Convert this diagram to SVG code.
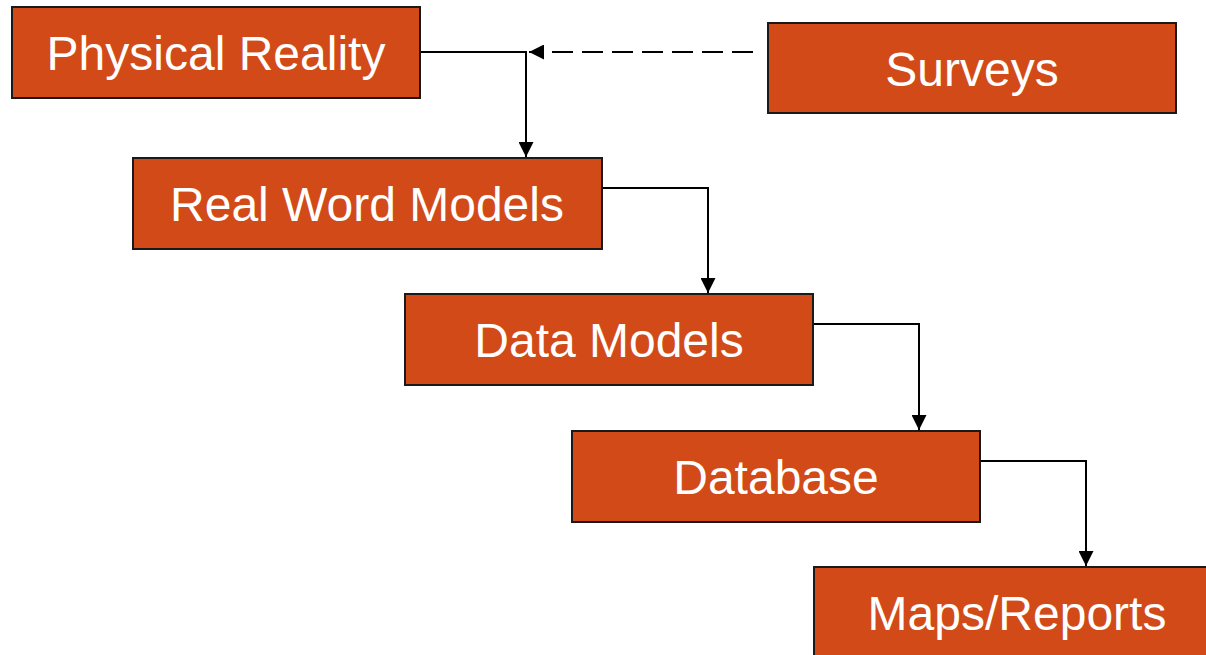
<svg xmlns="http://www.w3.org/2000/svg" width="1206" height="655" viewBox="0 0 1206 655">
<style>
.box{fill:#D24A18;stroke:#1a1a1a;stroke-width:2}
.lbl{fill:#fff;font-family:"Liberation Sans",Arial,sans-serif;font-size:48px;text-anchor:middle}
.con{fill:none;stroke:#000;stroke-width:2}
</style>
<defs>
<marker id="ahb" viewBox="0 0 10 10" refX="10" refY="5" markerWidth="15" markerHeight="15" markerUnits="userSpaceOnUse" orient="auto">
<path d="M0,0 L10,5 L0,10 z" fill="#000"/>
</marker>
</defs>
<rect width="1206" height="655" fill="#fff"/>
<g id="connectors">
<path class="con" d="M420,52 H526 V157" marker-end="url(#ahb)"/>
<path class="con" d="M753,52 H529" stroke-dasharray="21,9" marker-end="url(#ahb)"/>
<path class="con" d="M602,188 H708 V293" marker-end="url(#ahb)"/>
<path class="con" d="M813,324 H919 V430" marker-end="url(#ahb)"/>
<path class="con" d="M980,461 H1086 V566" marker-end="url(#ahb)"/>
</g>
<g id="physical-reality">
<rect class="box" x="12" y="7" width="408" height="91"/>
<text class="lbl" x="216" y="70">Physical Reality</text>
</g>
<g id="surveys">
<rect class="box" x="768" y="23" width="408" height="90"/>
<text class="lbl" x="972" y="86">Surveys</text>
</g>
<g id="real-word-models">
<rect class="box" x="133" y="158" width="469" height="91"/>
<text class="lbl" x="367" y="221">Real Word Models</text>
</g>
<g id="data-models">
<rect class="box" x="405" y="294" width="408" height="91"/>
<text class="lbl" x="609" y="357">Data Models</text>
</g>
<g id="database">
<rect class="box" x="572" y="431" width="408" height="91"/>
<text class="lbl" x="776" y="494">Database</text>
</g>
<g id="maps-reports">
<rect class="box" x="814" y="567" width="400" height="100"/>
<text class="lbl" x="1017" y="630">Maps/Reports</text>
</g>
</svg>
